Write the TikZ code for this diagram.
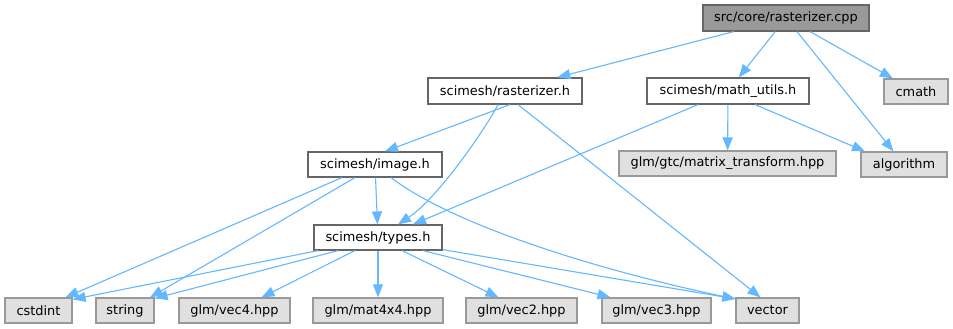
\documentclass[tikz,border=0pt]{standalone}
\usepackage{fontspec}
\setmainfont{DejaVu Sans}
\usetikzlibrary{arrows.meta}
\definecolor{edgeblue}{HTML}{63B8FF}
\definecolor{boxborder}{HTML}{666666}
\definecolor{grayborder}{HTML}{999999}
\definecolor{grayfill}{HTML}{E0E0E0}
\definecolor{rootfill}{HTML}{999999}
\begin{document}
\begin{tikzpicture}[x=1pt,y=-1pt,
  box/.style={draw=boxborder, line width=1.2pt, inner sep=0pt, minimum height=25pt, font=\fontsize{12.9}{15}\selectfont},
  wbox/.style={box, fill=white},
  gbox/.style={box, draw=grayborder, fill=grayfill},
  rootbox/.style={box, fill=rootfill},
  edge/.style={draw=edgeblue, line width=1.1pt, -{Triangle[length=13pt,width=10pt]}}]
\useasboundingbox[fill=white] (0,0) rectangle (953,329);

\node[rootbox, minimum width=166pt, minimum height=26pt] (root) at (786,18) {src/core/rasterizer.cpp};
\node[gbox, minimum width=64pt] (cmath) at (916,91.5) {cmath};
\node[wbox, minimum width=154pt, minimum height=26pt] (rast) at (505,91) {scimesh/rasterizer.h};
\node[wbox, minimum width=162pt, minimum height=26pt] (math) at (728,91) {scimesh/math\_utils.h};
\node[gbox, minimum width=217pt] (mtx) at (727.5,163.5) {glm/gtc/matrix\_transform.hpp};
\node[gbox, minimum width=86pt] (alg) at (904,164.5) {algorithm};
\node[wbox, minimum width=134pt] (img) at (375,164.5) {scimesh/image.h};
\node[wbox, minimum width=128pt] (types) at (378,237.5) {scimesh/types.h};
\node[gbox, minimum width=67pt] (cstdint) at (38.5,310.5) {cstdint};
\node[gbox, minimum width=58pt] (string) at (125,310.5) {string};
\node[gbox, minimum width=111pt] (vec4) at (234.5,310.5) {glm/vec4.hpp};
\node[gbox, minimum width=130pt] (mat) at (378,310.5) {glm/mat4x4.hpp};
\node[gbox, minimum width=111pt] (vec2) at (521.5,310.5) {glm/vec2.hpp};
\node[gbox, minimum width=109pt] (vec3) at (656.5,310.5) {glm/vec3.hpp};
\node[gbox, minimum width=63pt] (vector) at (767.5,310.5) {vector};

\draw[edge] (root) -- (rast);
\draw[edge] (root) -- (math);
\draw[edge] (root) -- (alg);
\draw[edge] (root) -- (cmath);
\draw[edge] ([xshift=5pt]rast.south) -- ([xshift=10pt]img.north);
\draw[edge] ([xshift=-7pt]rast.south) .. controls (486,128) and (438,198) .. ([xshift=20pt]types.north);
\draw[edge] ([xshift=13pt]rast.south) -- ([xshift=-7pt]vector.north);
\draw[edge] ([xshift=-30pt]math.south) -- ([xshift=35pt]types.north);
\draw[edge] (math) -- (mtx);
\draw[edge] ([xshift=27pt]math.south) -- ([xshift=-39pt]alg.north);
\draw[edge] (img) -- (types);
\draw[edge] ([xshift=-33pt]img.south) -- ([xshift=27pt]cstdint.north);
\draw[edge] ([xshift=-20pt]img.south) -- ([xshift=25pt]string.north);
\draw[edge] ([xshift=16pt]img.south) .. controls (460,230) and (620,275) .. ([yshift=-1.5pt]vector.north west);
\draw[edge] ([xshift=-60pt]types.south) -- ([yshift=-2pt]cstdint.north east);
\draw[edge] ([xshift=-40pt]types.south) -- ([yshift=-1pt]string.north east);
\draw[edge] ([xshift=-23pt]types.south) -- ([xshift=27pt]vec4.north);
\draw[edge] (types) -- (mat);
\draw[edge] ([xshift=24pt]types.south) -- ([xshift=-23pt]vec2.north);
\draw[edge] ([xshift=45pt]types.south) -- ([xshift=-46pt]vec3.north);
\draw[edge] ([yshift=1pt]types.south east) -- ([yshift=-1.5pt]vector.north west);
\end{tikzpicture}
\end{document}
